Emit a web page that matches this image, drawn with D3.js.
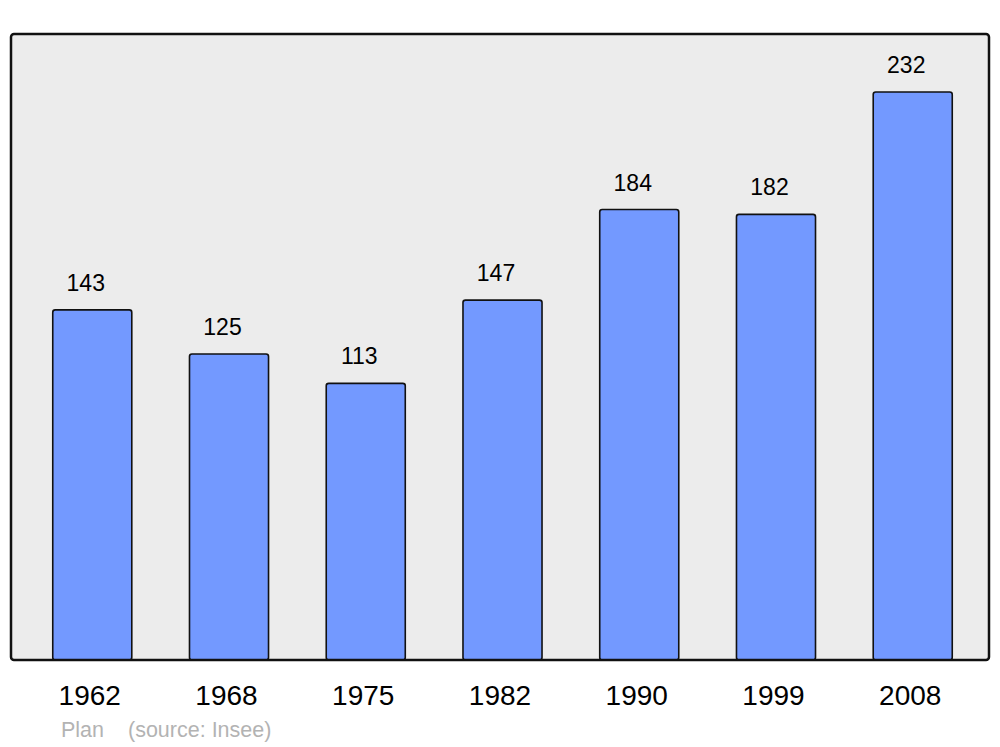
<!DOCTYPE html>
<html lang="fr">
<head>
<meta charset="UTF-8">
<title>Plan - population</title>
<script src="https://cdn.jsdelivr.net/npm/d3@7"></script>
<style>
  body { margin: 0; background: #fff; }
  svg { display: block; font-family: "Liberation Sans", Arial, sans-serif; }
</style>
</head>
<body>
<svg id="chart" width="1000" height="747"></svg>
<script>
// data
const years = ["1962", "1968", "1975", "1982", "1990", "1999", "2008"];
const population = [143, 125, 113, 147, 184, 182, 232];
const commune = "Plan";
const sourceText = "(source: Insee)";

const svg = d3.select("#chart");

// panel
const panel = { left: 11, top: 34, right: 989, bottom: 660 };

svg.append("rect")
    .attr("x", panel.left)
    .attr("y", panel.top)
    .attr("width", panel.right - panel.left)
    .attr("height", panel.bottom - panel.top)
    .attr("rx", 3)
    .attr("fill", "#ececec");

const x = d3.scaleBand()
    .domain(years)
    .range([13.5, 991.5])
    .paddingInner(0.422)
    .paddingOuter(0.287);

const y = d3.scaleLinear()
    .domain([0, 232])
    .range([panel.bottom, 92]);

const data = years.map((yr, i) => ({ year: yr, value: population[i] }));

// bars
svg.append("g")
    .selectAll("rect")
    .data(data)
    .join("rect")
    .attr("x", d => x(d.year))
    .attr("y", d => y(d.value))
    .attr("width", x.bandwidth())
    .attr("height", d => y(0) - y(d.value))
    .attr("rx", 2.5)
    .attr("fill", "#7399ff")
    .attr("stroke", "#111")
    .attr("stroke-width", 1.6);

// panel border on top
svg.append("rect")
    .attr("x", panel.left)
    .attr("y", panel.top)
    .attr("width", panel.right - panel.left)
    .attr("height", panel.bottom - panel.top)
    .attr("rx", 3)
    .attr("fill", "none")
    .attr("stroke", "#111")
    .attr("stroke-width", 2.5);

// value labels
svg.append("g")
    .selectAll("text")
    .data(data)
    .join("text")
    .attr("x", d => x(d.year) + x.bandwidth() / 2 - 6.5)
    .attr("y", d => y(d.value) - 19)
    .attr("text-anchor", "middle")
    .attr("font-size", 23)
    .attr("fill", "#000")
    .text(d => d.value);

// year labels
svg.append("g")
    .selectAll("text")
    .data(years)
    .join("text")
    .attr("x", d => x(d) + x.bandwidth() / 2 - 2.5)
    .attr("y", 705)
    .attr("text-anchor", "middle")
    .attr("font-size", 28)
    .attr("fill", "#000")
    .text(d => d);

// footer
svg.append("text")
    .attr("x", 61)
    .attr("y", 737)
    .attr("font-size", 21.5)
    .attr("fill", "#b3b3b3")
    .text(commune);

svg.append("text")
    .attr("x", 128)
    .attr("y", 737)
    .attr("font-size", 21.5)
    .attr("fill", "#b3b3b3")
    .text(sourceText);
</script>
</body>
</html>
